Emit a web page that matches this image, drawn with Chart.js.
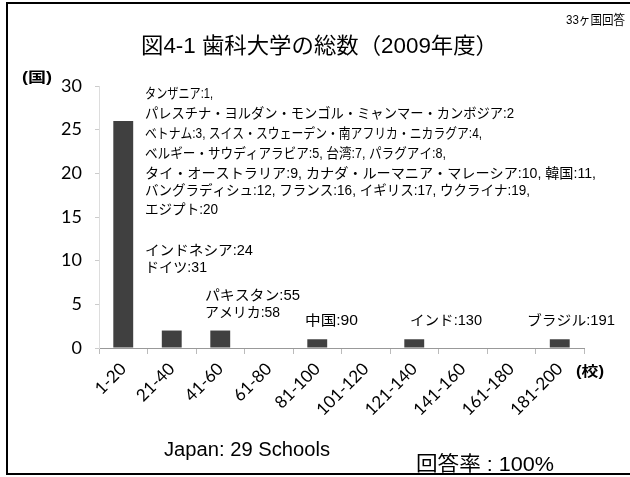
<!DOCTYPE html>
<html>
<head>
<meta charset="utf-8">
<script src="https://cdn.jsdelivr.net/npm/chart.js@4.4.1/dist/chart.umd.min.js"></script>
<style>
  html, body { margin: 0; padding: 0; background: #fff; }
  #wrap { width: 630px; height: 477px; position: relative; }
</style>
</head>
<body>
<div id="wrap"><canvas id="myChart" width="630" height="477"></canvas></div>
<script>
// data
const categories = ['1-20', '21-40', '41-60', '61-80', '81-100', '101-120', '121-140', '141-160', '161-180', '181-200'];
const countries = [26, 2, 2, 0, 1, 0, 1, 0, 0, 1];
const yTicks = [0, 5, 10, 15, 20, 25, 30];

const titleText = '図4-1 歯科大学の総数（2009年度）';
const noteLines = [
  'タンザニア:1,',
  'パレスチナ・ヨルダン・モンゴル・ミャンマー・カンボジア:2',
  'ベトナム:3, スイス・スウェーデン・南アフリカ・ニカラグア:4,',
  'ベルギー・サウディアラビア:5, 台湾:7, パラグアイ:8,',
  'タイ・オーストラリア:9, カナダ・ルーマニア・マレーシア:10, 韓国:11,',
  'バングラディシュ:12, フランス:16, イギリス:17, ウクライナ:19,',
  'エジプト:20'
];
const noteY = [94, 114, 134, 154, 174, 191, 210];
const noteEnd = [213, 514, 482, 446, 596, 530, 218];

const jp = '"Liberation Sans", "Noto Sans CJK JP", sans-serif';

// draw text squeezed/stretched to end at endX
function fitText(c, t, x, y, endX) {
  const w = c.measureText(t).width;
  const sx = (endX - x) / w;
  c.save();
  c.translate(x, y);
  c.scale(sx, 1);
  c.fillText(t, 0, 0);
  c.restore();
}

// extra text + frame
const decor = {
  id: 'decor',
  afterDraw(chart) {
    const c = chart.ctx;
    c.save();
    // frame
    c.strokeStyle = '#000';
    c.lineWidth = 2;
    c.beginPath();
    c.moveTo(640, 3); c.lineTo(7, 3); c.lineTo(7, 474); c.lineTo(640, 474);
    c.stroke();

    c.fillStyle = '#000';
    c.textBaseline = 'middle';
    c.textAlign = 'left';
    c.font = '22px ' + jp;
    fitText(c, titleText, 141, 47, 498);

    c.font = '13px ' + jp;
    fitText(c, '33ヶ国回答', 566, 20, 625);

    c.font = 'bold 14px ' + jp;
    fitText(c, '(国)', 22, 78, 52);
    fitText(c, '(校)', 576, 372, 604);

    c.font = '14px ' + jp;
    noteLines.forEach((t, i) => fitText(c, t, 145, noteY[i], noteEnd[i]));
    fitText(c, 'インドネシア:24', 145, 251, 253);
    fitText(c, 'ドイツ:31', 145, 268, 207);
    fitText(c, 'パキスタン:55', 205, 296, 300);
    fitText(c, 'アメリカ:58', 205, 313, 280);
    fitText(c, '中国:90', 305, 321, 358);
    fitText(c, 'インド:130', 410, 321, 482);
    fitText(c, 'ブラジル:191', 527, 321, 615);

    c.textBaseline = 'alphabetic';
    c.font = '20px ' + jp;
    fitText(c, 'Japan: 29 Schools', 164, 456, 330);
    fitText(c, '回答率 : 100%', 416, 471, 554);
    c.restore();
  }
};

const ctx = document.getElementById('myChart');

new Chart(ctx, {
  type: 'bar',
  data: {
    labels: categories,
    datasets: [{
      data: countries,
      backgroundColor: '#404040',
      barPercentage: 0.82,
      categoryPercentage: 0.5
    }]
  },
  options: {
    responsive: false,
    animation: false,
    layout: { padding: { left: 0, right: 46, top: 86, bottom: 0 } },
    plugins: { legend: { display: false }, tooltip: { enabled: false } },
    scales: {
      x: {
        grid: { offset: true, drawOnChartArea: false, tickLength: 6, color: '#bbb' },
        border: { color: '#999', dash: [2, 2] },
        ticks: {
          minRotation: 45, maxRotation: 45, autoSkip: false, padding: 5,
          color: '#000', font: { family: 'Lato', size: 17 }
        },
        afterFit(s) { s.height = 129; }
      },
      y: {
        min: 0, max: 30,
        afterBuildTicks(s) { s.ticks = yTicks.map(v => ({ value: v })); },
        grid: { drawOnChartArea: false, tickLength: 4, color: '#ccc' },
        border: { color: '#ddd', dash: [2, 3] },
        ticks: { color: '#000', padding: 13, font: { family: 'Lato', size: 18 } },
        afterFit(s) { s.width = 99; }
      }
    }
  },
  plugins: [decor]
});
</script>
</body>
</html>
